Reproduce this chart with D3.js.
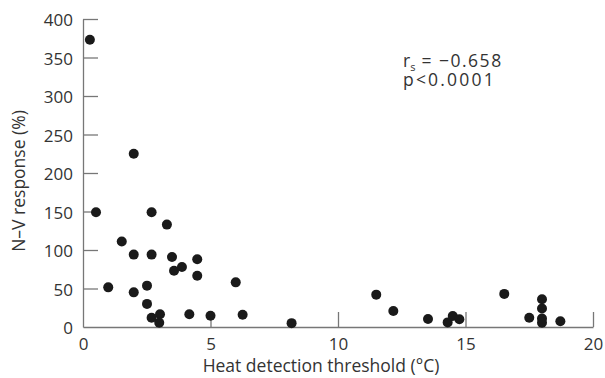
<!DOCTYPE html>
<html lang="en">
<head>
    <meta charset="UTF-8">
    <title>N-V response vs heat detection threshold</title>
    <script src="https://d3js.org/d3.v7.min.js"></script>
    <style>
        body { margin: 0; background: #fff; }
        text { font-family: "Open Sans", "Noto Sans", sans-serif; fill: #333; }
        .axis path, .axis line { stroke: #777; stroke-width: 1.3px; }
    </style>
</head>
<body>
    <svg id="chart"></svg>
    <script>
        const width = 605;
        const height = 378;

        // heat detection threshold (°C)
        const threshold = [0.27, 0.51, 0.99, 1.52, 1.99, 1.99, 1.99, 2.69, 2.69, 2.51,
            2.51, 2.69, 3.02, 2.99, 3.29, 3.49, 3.57, 3.88, 4.48, 4.48,
            4.17, 5.0, 5.99, 6.26, 8.18, 11.5, 12.17, 13.53, 14.3, 14.5,
            14.76, 16.52, 17.5, 18.0, 18.0, 18.0, 18.0, 18.72];
        // N-V response (%)
        const response = [373, 149, 51.5, 111, 94, 45, 225, 149, 94, 53.7,
            30, 12, 16.5, 5.6, 133, 91, 73, 78, 88, 66.6,
            16.5, 14.7, 58, 16, 5, 42, 20.8, 10.4, 6, 14.3,
            10, 43, 12, 36, 24, 11, 5.6, 7.4];

        const xTicks = [0, 5, 10, 15, 20];
        const yTicks = [0, 50, 100, 150, 200, 250, 300, 350, 400];

        const margin = { left: 83, right: 12, top: 19, bottom: 51 };

        const svg = d3.select('#chart')
            .attr('width', width)
            .attr('height', height);

        const x = d3.scaleLinear().domain([0, 20]).range([margin.left, width - margin.right]);
        const y = d3.scaleLinear().domain([0, 400]).range([height - margin.bottom, margin.top]);

        // x axis, ticks point up into the plot
        const xAxis = svg.append('g')
            .attr('class', 'axis')
            .attr('transform', `translate(0,${y(0)})`)
            .call(d3.axisBottom(x).tickValues(xTicks).tickSize(0).tickPadding(9).tickSizeOuter(0));
        xAxis.selectAll('.tick line').remove();
        xAxis.selectAll('.tick').filter(d => d > 0).append('line')
            .attr('y1', 0).attr('y2', -15).attr('stroke', '#444');
        xAxis.selectAll('text').attr('font-size', 17).attr('dy', '0.8em');

        // y axis, ticks point right into the plot
        const yAxis = svg.append('g')
            .attr('class', 'axis')
            .attr('transform', `translate(${x(0)},0)`)
            .call(d3.axisLeft(y).tickValues(yTicks).tickSize(0).tickPadding(10).tickSizeOuter(0));
        yAxis.selectAll('.tick line').remove();
        yAxis.selectAll('.tick').filter(d => d > 0).append('line')
            .attr('x1', 0).attr('x2', 15).attr('stroke', '#555');
        yAxis.selectAll('text').attr('font-size', 17).attr('dy', '0.4em');

        // points
        svg.append('g').selectAll('circle')
            .data(threshold.map((t, i) => [t, response[i]]))
            .enter().append('circle')
            .attr('cx', d => x(d[0]))
            .attr('cy', d => y(d[1]))
            .attr('r', 5)
            .attr('fill', '#1a1a1a');

        // axis titles
        svg.append('text')
            .attr('x', 321)
            .attr('y', 372)
            .attr('text-anchor', 'middle')
            .attr('font-size', 17.5)
            .text('Heat detection threshold (°C)');

        svg.append('text')
            .attr('transform', `translate(25,181) rotate(-90)`)
            .attr('text-anchor', 'middle')
            .attr('font-size', 17.5)
            .text('N–V response (%)');

        // correlation note
        const note = svg.append('text').attr('x', 403).attr('y', 67).attr('font-size', 17.5);
        note.append('tspan').text('r');
        note.append('tspan').attr('font-size', 11).attr('dy', 4).text('s');
        note.append('tspan').attr('dy', -4).attr('letter-spacing', 1.5).text(' = \u22120.658');
        svg.append('text').attr('x', 403).attr('y', 86).attr('font-size', 17.5)
            .attr('letter-spacing', 2.2).text('p<0.0001');
    </script>
</body>
</html>
